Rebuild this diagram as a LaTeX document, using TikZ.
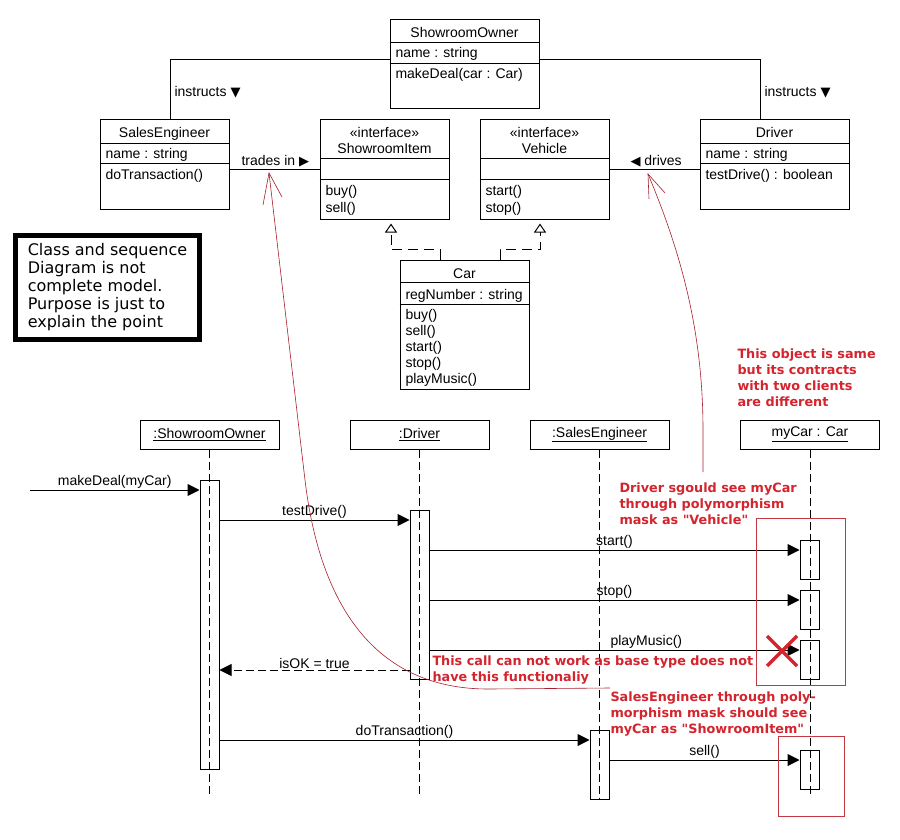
\documentclass[tikz,border=0pt]{standalone}
\usepackage{fontspec}
\setmainfont{Liberation Sans}
\newfontfamily\notefont{DejaVu Sans}
\usetikzlibrary{arrows.meta}
\definecolor{notered}{RGB}{212,36,46}
\definecolor{curvered}{RGB}{168,30,46}
\definecolor{boxred}{RGB}{196,56,66}
\begin{document}
\begin{tikzpicture}[x=1pt, y=-1pt, line width=1pt,
        font=\fontsize{14}{16}\selectfont,
        classbox/.style={draw, inner sep=0pt},
        ctitle/.style={anchor=base, inner sep=0pt},
        member/.style={anchor=base west, inner sep=0pt},
        lifehead/.style={draw, inner sep=0pt, minimum width=139pt, minimum height=29pt},
        activation/.style={draw, fill=white, inner sep=0pt, minimum width=19pt},
        lifeline/.style={dash pattern=on 8pt off 4pt},
        call/.style={-{Triangle[length=12pt, width=12pt]}},
        reply/.style={call, dash pattern=on 8pt off 4pt},
        msg/.style={above, inner sep=1pt},
        realize/.style={dash pattern=on 10pt off 6pt, -{Triangle[open, length=9pt, width=12pt]}},
        rednote/.style={anchor=base west, inner sep=0pt, align=left, text=notered,
            font=\notefont\bfseries\fontsize{12.8}{16}\selectfont},
        redcurve/.style={draw=curvered, line width=0.6pt},
        redbox/.style={draw=boxred, line width=1pt}]
    \fill[white] (0,0) rectangle (900,840);
    \useasboundingbox (0,0) rectangle (900,840);

    % class diagram
    \node[classbox, minimum width=149pt, minimum height=89pt] (so) at (464.5,64.5) {};
    \node[classbox, minimum width=129pt, minimum height=89pt] (se) at (164.5,164.5) {};
    \node[classbox, minimum width=129pt, minimum height=99pt] (si) at (384.5,169.5) {};
    \node[classbox, minimum width=129pt, minimum height=99pt] (vh) at (544.5,169.5) {};
    \node[classbox, minimum width=149pt, minimum height=89pt] (drv) at (774.5,164.5) {};
    \node[classbox, minimum width=129pt, minimum height=129pt] (car) at (464.5,324.5) {};

    \draw (so.west |- 0,43) -- (so.east |- 0,43) (so.west |- 0,64) -- (so.east |- 0,64);
    \draw (se.west |- 0,144) -- (se.east |- 0,144) (se.west |- 0,164) -- (se.east |- 0,164);
    \draw (si.west |- 0,159) -- (si.east |- 0,159) (si.west |- 0,180) -- (si.east |- 0,180);
    \draw (vh.west |- 0,159) -- (vh.east |- 0,159) (vh.west |- 0,180) -- (vh.east |- 0,180);
    \draw (drv.west |- 0,144) -- (drv.east |- 0,144) (drv.west |- 0,164) -- (drv.east |- 0,164);
    \draw (car.west |- 0,282) -- (car.east |- 0,282) (car.west |- 0,304) -- (car.east |- 0,304);

    \node[ctitle] (so-t) at (464.5,38) {ShowroomOwner};
    \node[member] (so-a) at (395,58) {name : string};
    \node[member] (so-m) at (395,79) {makeDeal(car : Car)};

    \node[ctitle] (se-t) at (164.5,138) {SalesEngineer};
    \node[member] (se-a) at (105,159) {name : string};
    \node[member] (se-m) at (105,179) {doTransaction()};

    \node[ctitle] (si-s) at (384.5,138) {«interface»};
    \node[ctitle] (si-t) at (384.5,154) {ShowroomItem};
    \node[member] (si-m1) at (325,196) {buy()};
    \node[member] (si-m2) at (325,212) {sell()};

    \node[ctitle] (vh-s) at (544.5,138) {«interface»};
    \node[ctitle] (vh-t) at (544.5,154) {Vehicle};
    \node[member] (vh-m1) at (485,196) {start()};
    \node[member] (vh-m2) at (485,212) {stop()};

    \node[ctitle] (drv-t) at (774.5,138) {Driver};
    \node[member] (drv-a) at (705,159) {name : string};
    \node[member] (drv-m) at (705,179) {testDrive() : boolean};

    \node[ctitle] (car-t) at (464.5,278) {Car};
    \node[member] (car-a) at (405,299) {regNumber : string};
    \node[member] (car-m1) at (405,319) {buy()};
    \node[member] (car-m2) at (405,335) {sell()};
    \node[member] (car-m3) at (405,351) {start()};
    \node[member] (car-m4) at (405,367) {stop()};
    \node[member] (car-m5) at (405,383) {playMusic()};

    \draw ([yshift=4.5pt]so.west) -| ([xshift=5.5pt]se.north);
    \draw ([yshift=4.5pt]so.east) -| ([xshift=-14.5pt]drv.north);
    \draw ([yshift=-5.5pt]se.east) -- ([yshift=-5.5pt]se.east -| si.west);
    \draw ([yshift=-5.5pt]drv.west) -- ([yshift=-5.5pt]drv.west -| vh.east);
    \node[member] (ins-l) at (174,97) {instructs {\notefont\fontsize{13}{16}\selectfont ▼}};
    \node[member] (ins-r) at (764,97) {instructs {\notefont\fontsize{13}{16}\selectfont ▼}};
    \node[member] (trd) at (241,166) {trades in {\notefont\fontsize{13}{16}\selectfont ▶}};
    \node[member] (drvs) at (630,166) {{\notefont\fontsize{13}{16}\selectfont ◀} drives};

    \draw[realize] ([xshift=-24.5pt]car.north) -- ++(0,-10) -| ([xshift=6.5pt, yshift=-4pt]si.south);
    \draw[realize] ([xshift=35.5pt]car.north) -- ++(0,-10) -| ([xshift=-4.5pt, yshift=-4pt]vh.south);

    % note
    \node[draw, line width=5pt, minimum width=184pt, minimum height=104pt, align=left,
        font=\notefont\fontsize{16}{18}\selectfont] (note) at (107.5,287.5)
        {Class and sequence\\Diagram is not\\complete model.\\Purpose is just to\\explain the point};

    % sequence diagram
    \node[lifehead] (soh) at (209.5,434.5) {\underline{:ShowroomOwner}};
    \node[lifehead] (drh) at (419.5,434.5) {\underline{:Driver}};
    \node[lifehead] (seh) at (599.5,434.5) {\underline{:SalesEngineer}};
    \node[lifehead] (carh) at (810,434.5) {\underline{myCar : Car}};

    \node[activation, minimum height=289pt] (soact) at (209.5,624.5) {};
    \node[activation, minimum height=169pt] (dract) at (419.5,594.5) {};
    \node[activation, minimum height=69pt] (seact) at (599.5,764.5) {};
    \node[activation, minimum height=39pt] (caract1) at (809.5,559.5) {};
    \node[activation, minimum height=39pt] (caract2) at (809.5,609.5) {};
    \node[activation, minimum height=39pt] (caract3) at (809.5,659.5) {};
    \node[activation, minimum height=39pt] (caract4) at (809.5,769.5) {};

    \draw[lifeline] (soh.south) -- (soh.south |- 0,797);
    \draw[lifeline] (drh.south) -- (drh.south |- 0,797);
    \draw[lifeline] (seh.south) -- (seh.south |- 0,799);
    \draw[lifeline] (carh.south) -- (carh.south |- 0,797);

    \coordinate (found) at (30,490);
    \draw[call] (found) -- (soact.west |- found) node[msg, midway] (m1) {makeDeal(myCar)};
    \draw[call] (soact.east |- 0,520) -- (dract.west |- 0,520) node[msg, midway] (m2) {testDrive()};
    \draw[call] (dract.east |- 0,550) -- (caract1.west |- 0,550) node[msg, midway] (m3) {start()};
    \draw[call] (dract.east |- 0,600) -- (caract2.west |- 0,600) node[msg, midway] (m4) {stop()};
    \draw[call] (dract.east |- 0,650) -- (caract3.west |- 0,650) node[msg, pos=0.586] (m5) {playMusic()};
    \draw[reply] (dract.west |- 0,670) -- (soact.east |- 0,670) node[msg, midway] (m6) {isOK = true};
    \draw[call] (soact.east |- 0,740) -- (seact.west |- 0,740) node[msg, midway] (m7) {doTransaction()};
    \draw[call] (seact.east |- 0,760) -- (caract4.west |- 0,760) node[msg, midway] (m8) {sell()};

    % remarks
    \draw[redbox] (756,518) rectangle (845,685);
    \draw[redbox] (778,736) rectangle (844,816);
    \draw[notered, line width=3.5pt] (767,636) -- (797,666) (767,666) -- (797,636);

    \node[rednote] (same) at (737,406) {This object is same\\but its contracts\\with two clients\\are different};
    \node[rednote] (drvmask) at (619,524) {Driver sgould see myCar\\through polymorphism\\mask as "Vehicle"};
    \node[rednote] (nocall) at (432,681) {This call can not work as base type does not\\have this functionaliy};
    \node[rednote] (semask) at (610,733) {SalesEngineer through poly-\\morphism mask should see\\myCar as "ShowroomItem"};

    \coordinate (tradestip) at (269,173);
    \coordinate (drivestip) at (648,174);
    \draw[redcurve] (610,688) -- (490,689) .. controls (365,690) and (318,590) .. (305,480) -- (tradestip);
    \draw[redcurve] (263,205) -- (tradestip) -- (282,197);
    \draw[redcurve] (703,472) -- (703,430) .. controls (703,330) and (680,250) .. (drivestip);
    \draw[redcurve] (649,199) -- (drivestip) -- (665,193);
\end{tikzpicture}
\end{document}
